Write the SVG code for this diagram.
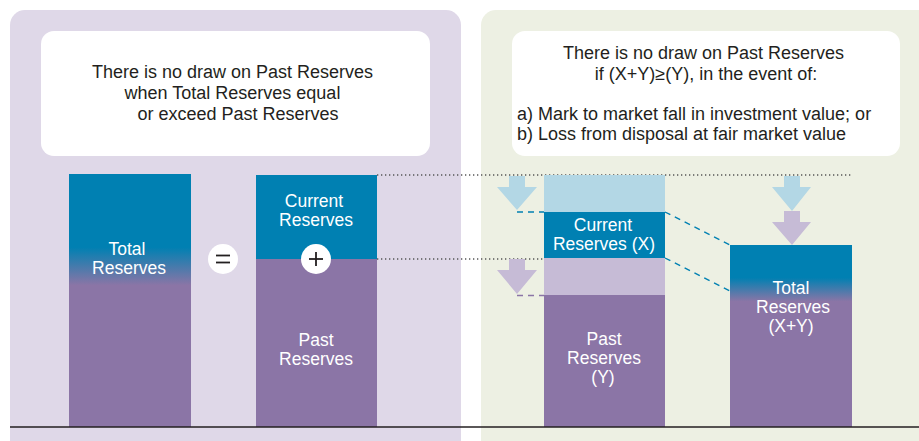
<svg xmlns="http://www.w3.org/2000/svg" width="919" height="441" viewBox="0 0 919 441">
  <defs>
    <linearGradient id="gradTotalL" x1="0" y1="174" x2="0" y2="427" gradientUnits="userSpaceOnUse">
      <stop offset="0" stop-color="#0080b2"/>
      <stop offset="0.29" stop-color="#0080b2"/>
      <stop offset="0.44" stop-color="#8b75a6"/>
      <stop offset="1" stop-color="#8b75a6"/>
    </linearGradient>
    <linearGradient id="gradTotalR" x1="0" y1="245" x2="0" y2="427" gradientUnits="userSpaceOnUse">
      <stop offset="0" stop-color="#0080b2"/>
      <stop offset="0.18" stop-color="#0080b2"/>
      <stop offset="0.31" stop-color="#8b75a6"/>
      <stop offset="1" stop-color="#8b75a6"/>
    </linearGradient>
    <style>
      .note { font-family: "Liberation Sans", Arial, sans-serif; font-size: 18px; fill: #231f20; }
      .bar-label { font-family: "Liberation Sans", Arial, sans-serif; font-size: 17.5px; fill: #ffffff; text-anchor: middle; }
      .dotted { stroke: #555555; stroke-width: 1.3; stroke-dasharray: 1.3 2.7; fill: none; }
      .dash-teal { stroke: #0080b2; stroke-width: 1.4; stroke-dasharray: 6 5; fill: none; }
      .dash-purple { stroke: #8b75a6; stroke-width: 1.6; stroke-dasharray: 6 5; fill: none; }
      .teal { fill: #0080b2; }
      .purple { fill: #8b75a6; }
      .lightblue { fill: #b3d7e5; }
      .lightpurple { fill: #c6bbd6; }
      .sign { stroke: #231f20; stroke-width: 1.8; fill: none; }
    </style>
  </defs>

  <!-- Panels -->
  <g id="panel-left">
    <rect x="10" y="10" width="451" height="446" rx="15" fill="#dfd8e8"/>
    <rect x="41" y="31" width="389" height="125" rx="13" fill="#ffffff"/>
    <text class="note" text-anchor="middle">
      <tspan x="235" y="78">There is no draw on Past Reserves</tspan>
      <tspan x="235" y="99">when Total Reserves equal</tspan>
      <tspan x="238" y="120">or exceed Past Reserves</tspan>
    </text>
  </g>
  <g id="panel-right">
    <rect x="481" y="10" width="460" height="446" rx="15" fill="#edf0e3"/>
    <rect x="512" y="31" width="388" height="125" rx="13" fill="#ffffff"/>
    <text class="note" text-anchor="middle">
      <tspan x="706" y="59">There is no draw on Past Reserves</tspan>
      <tspan x="706" y="80">if (X+Y)≥(Y), in the event of:</tspan>
    </text>
    <text class="note">
      <tspan x="517" y="120">a) Mark to market fall in investment value; or</tspan>
      <tspan x="517" y="140">b) Loss from disposal at fair market value</tspan>
    </text>
  </g>

  <!-- Connectors -->
  <g id="connectors">
    <line class="dotted" x1="377" y1="175" x2="853" y2="175"/>
    <line class="dotted" x1="377" y1="259" x2="544" y2="259"/>
    <line class="dash-teal" x1="517" y1="212" x2="544" y2="212"/>
    <line class="dash-purple" x1="517" y1="295.5" x2="544" y2="295.5"/>
    <line class="dash-teal" x1="665" y1="212" x2="730" y2="245"/>
    <line class="dash-teal" x1="665" y1="258" x2="730" y2="291"/>
  </g>

  <!-- Left panel bars -->
  <g id="total-reserves">
    <rect x="69" y="174" width="122" height="253" fill="url(#gradTotalL)"/>
    <text class="bar-label"><tspan x="127" y="255">Total</tspan><tspan x="129" y="274">Reserves</tspan></text>
  </g>
  <g id="equals-sign">
    <circle cx="223" cy="259" r="15" fill="#ffffff"/>
    <line class="sign" x1="216" y1="255.5" x2="230" y2="255.5"/>
    <line class="sign" x1="216" y1="262.5" x2="230" y2="262.5"/>
  </g>
  <g id="current-past-reserves">
    <rect class="teal" x="256" y="175" width="121" height="84"/>
    <rect class="purple" x="256" y="259" width="121" height="168"/>
    <text class="bar-label"><tspan x="314" y="207">Current</tspan><tspan x="316" y="226">Reserves</tspan></text>
    <text class="bar-label"><tspan x="316" y="346">Past</tspan><tspan x="316" y="365">Reserves</tspan></text>
  </g>
  <g id="plus-sign">
    <circle cx="316" cy="259" r="15" fill="#ffffff"/>
    <line class="sign" x1="309" y1="259" x2="323" y2="259"/>
    <line class="sign" x1="316" y1="252" x2="316" y2="266"/>
  </g>

  <!-- Right panel bars -->
  <g id="reserves-xy-stack">
    <rect class="lightblue" x="544" y="175" width="121" height="37"/>
    <rect class="teal" x="544" y="212" width="121" height="46"/>
    <rect class="lightpurple" x="544" y="258" width="121" height="37"/>
    <rect class="purple" x="544" y="295" width="121" height="132"/>
    <text class="bar-label"><tspan x="603" y="231">Current</tspan><tspan x="604" y="250">Reserves (X)</tspan></text>
    <text class="bar-label"><tspan x="604" y="345">Past</tspan><tspan x="604" y="364">Reserves</tspan><tspan x="603" y="383">(Y)</tspan></text>
  </g>
  <g id="total-reserves-xy">
    <rect x="730" y="245" width="122" height="182" fill="url(#gradTotalR)"/>
    <text class="bar-label"><tspan x="791" y="294">Total</tspan><tspan x="793" y="313">Reserves</tspan><tspan x="791" y="332">(X+Y)</tspan></text>
  </g>

  <!-- Arrows -->
  <g id="arrow-current-left">
    <polygon class="lightblue" points="509,176 525,176 525,187 537,187 517,210 497,187 509,187"/>
  </g>
  <g id="arrow-past-left">
    <polygon class="lightpurple" points="509,259 525,259 525,270 537,270 517,294 497,270 509,270"/>
  </g>
  <g id="arrow-current-right">
    <polygon class="lightblue" points="784,176 800,176 800,187 811,187 792,211 772,187 784,187"/>
  </g>
  <g id="arrow-past-right">
    <polygon class="lightpurple" points="784,211 800,211 800,222 811,222 792,245 772,222 784,222"/>
  </g>

  <!-- Baseline -->
  <line id="baseline" x1="10" y1="427" x2="919" y2="427" stroke="#231f20" stroke-width="1.3"/>
</svg>
